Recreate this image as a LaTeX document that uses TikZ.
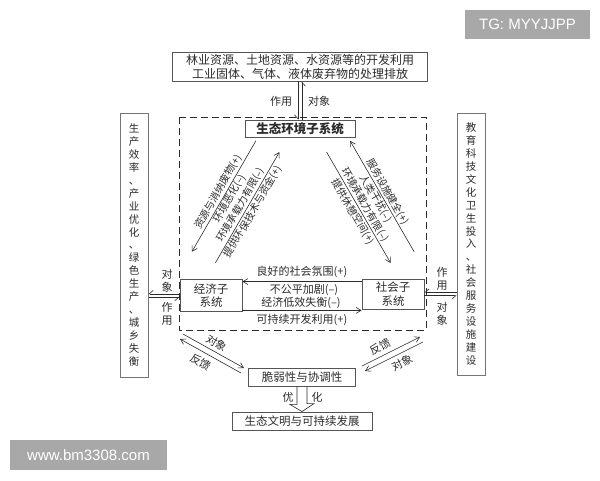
\documentclass[tikz,border=0pt]{standalone}
\usepackage{fontspec}
\setmainfont{Noto Sans CJK SC}
\newfontfamily\wmfont{Liberation Sans}
\usetikzlibrary{arrows.meta,calc}

\definecolor{ink}{HTML}{2B2B2B}
\definecolor{wmgray}{HTML}{A8A8A8}

\tikzset{
  box/.style={draw=ink!80, line width=0.8pt, fill=white, inner sep=2pt, text=ink,
    font=\fontsize{11.5}{13.5}\selectfont, align=center},
  sidebox/.style={box, draw=ink!65, line width=1pt, minimum width=28pt,
    font=\fontsize{10.5}{12.9}\selectfont},
  lbl/.style={draw=none, text=ink, inner sep=0pt, align=center,
    font=\fontsize{11}{13}\selectfont},
  slant/.style={lbl, font=\fontsize{10.2}{12}\selectfont},
  wm/.style={fill=wmgray, text=white, inner sep=0pt, font=\wmfont\fontsize{15}{15}\selectfont},
  half/.style={-{Straight Barb[harpoon,swap,length=4pt,width=7pt]}},
  full/.style={-{Straight Barb[length=5pt,width=6pt]}},
}

\begin{document}
\begin{tikzpicture}[x=1pt,y=-1pt,line width=0.6pt,color=ink]
\useasboundingbox (0,0) rectangle (600,480);

% watermarks
\node[wm, minimum width=125pt, minimum height=29pt] (tg) at (527.5,24.5) {TG: MYYJJPP};
\node[wm, minimum width=157pt, minimum height=30pt] (www) at (88.5,455) {www.bm3308.com};

% boxes
\node[box, minimum width=255pt, minimum height=29pt, font=\fontsize{12}{14}\selectfont] (res) at (300,66.5)
  {林业资源、土地资源、水资源等的开发利用\\工业固体、气体、液体废弃物的处理排放};
\draw[dash pattern=on 7pt off 4pt] (179,117) rectangle (426,330); % subsystem frame
\node[box, minimum width=110pt, minimum height=17pt, font=\fontsize{12.5}{14}\selectfont\bfseries] (eco) at (300,128.5) {生态环境子系统};
\node[box, minimum width=62pt, minimum height=32pt] (econ) at (211,295.5) {经济子\\系统};
\node[box, minimum width=62pt, minimum height=30pt] (soc) at (393,294) {社会子\\系统};
\node[sidebox, minimum height=264pt] (lside) at (134,245)
  {生\\产\\效\\率\\、\\产\\业\\优\\化\\、\\绿\\色\\生\\产\\、\\城\\乡\\失\\衡};
\node[sidebox, minimum height=262pt] (rside) at (471,244)
  {教\\育\\科\\技\\文\\化\\卫\\生\\投\\入\\、\\社\\会\\服\\务\\设\\施\\建\\设};
\node[box, minimum width=107pt, minimum height=18pt] (fra) at (302,377) {脆弱性与协调性};
\node[box, minimum width=140pt, minimum height=18pt] (civ) at (302,421) {生态文明与可持续发展};

% top link
\draw[half] ([xshift=-2pt]res.south) -- ([xshift=-2pt]res.south |- eco.north);
\draw[half] ([xshift=2pt]res.south |- eco.north) -- ([xshift=2pt]res.south);
\node[lbl] (zy1) at (281,101) {作用};
\node[lbl] (dx1) at (319,101) {对象};

% side links
\draw[half] ($(econ.west)+(0,-1.7)$) -- ($(econ.west -| lside.east)+(0,-1.7)$);
\draw[half] ($(econ.west -| lside.east)+(0,1.7)$) -- ($(econ.west)+(0,1.7)$);
\node[lbl] (dx2) at (167,280.5) {对\\象};
\node[lbl] (zy2) at (167,314) {作\\用};
\draw[half] ($(soc.east -| rside.west)+(0,-1.7)$) -- ($(soc.east)+(0,-1.7)$);
\draw[half] ($(soc.east)+(0,1.7)$) -- ($(soc.east -| rside.west)+(0,1.7)$);
\node[lbl] (zy3) at (442,278.5) {作\\用};
\node[lbl] (dx3) at (442,314) {对\\象};

% economy <-> society
\draw[full] ($(soc.north west)+(0,3)$) -- ($(econ.north east)+(0,2.5)$);
\draw[full] ($(econ.south east)+(0,-1.5)$) -- ($(soc.south west)+(0,1)$);
\node[lbl] (m1) at (302,272) {良好的社会氛围(+)};
\node[lbl] (m2) at (304,290) {不公平加剧(–)};
\node[lbl] (m3) at (301,303) {经济低效失衡(–)};
\node[lbl] (m4) at (302,320) {可持续开发利用(+)};

% ecology <-> economy
\coordinate (el1) at (255.9,140.8);
\coordinate (el2) at (191.9,251.7);
\coordinate (el3) at (215.4,262.9);
\coordinate (el4) at (279.4,152.1);
\draw[full] (el1) -- (el2);
\draw[full] (el3) -- (el4);
\node[slant, rotate=60] (e1) at (218.3,191.9) {资源与消纳废物(+)};
\node[slant, rotate=60] (e2) at (230,198.6) {环境恶化(–)};
\node[slant, rotate=60] (e3) at (240.8,204.9) {环境承载力有限(–)};
\node[slant, rotate=60] (e4) at (253,211.9) {提供环保技术与资金(+)};

% ecology <-> society
\coordinate (sl1) at (350.1,140.8);
\coordinate (sl2) at (414.1,251.7);
\coordinate (sl3) at (326.6,152.1);
\coordinate (sl4) at (390.6,262.9);
\draw[full] (sl2) -- (sl1);
\draw[full] (sl3) -- (sl4);
\node[slant, rotate=-60] (s1) at (387.7,191.9) {服务设施健全(+)};
\node[slant, rotate=-60] (s2) at (376,198.6) {人类干扰(–)};
\node[slant, rotate=-60] (s3) at (365.2,204.9) {环境承载力有限(–)};
\node[slant, rotate=-60] (s4) at (353,211.9) {提供休憩空间(+)};

% frame <-> fragility
\coordinate (fl1) at (183,334);
\coordinate (fl2) at (180,339);
\coordinate (fr1) at (420,337);
\coordinate (fr2) at (423,342);
\draw[full] (fl1) -- (244,368);
\draw[full] (241,373) -- (fl2);
\node[lbl, rotate=-30] (fb1) at (217,343) {对象};
\node[lbl, rotate=-30] (fb2) at (201,362) {反馈};
\draw[full] (362,366) -- (fr1);
\draw[full] (fr2) -- (365,371);
\node[lbl, rotate=27] (fb3) at (380,347) {反馈};
\node[lbl, rotate=27] (fb4) at (402,363) {对象};

% optimisation arrow
\draw ($(fra.south)+(-5,0)$) -- ++(0,18) -- ++(-7,0) -- (civ.north) -- ++(12,-8) -- ++(-7,0) -- ($(fra.south)+(5,0)$);
\node[lbl] (yh1) at (288,397) {优};
\node[lbl] (yh2) at (317,397) {化};

\end{tikzpicture}
\end{document}
